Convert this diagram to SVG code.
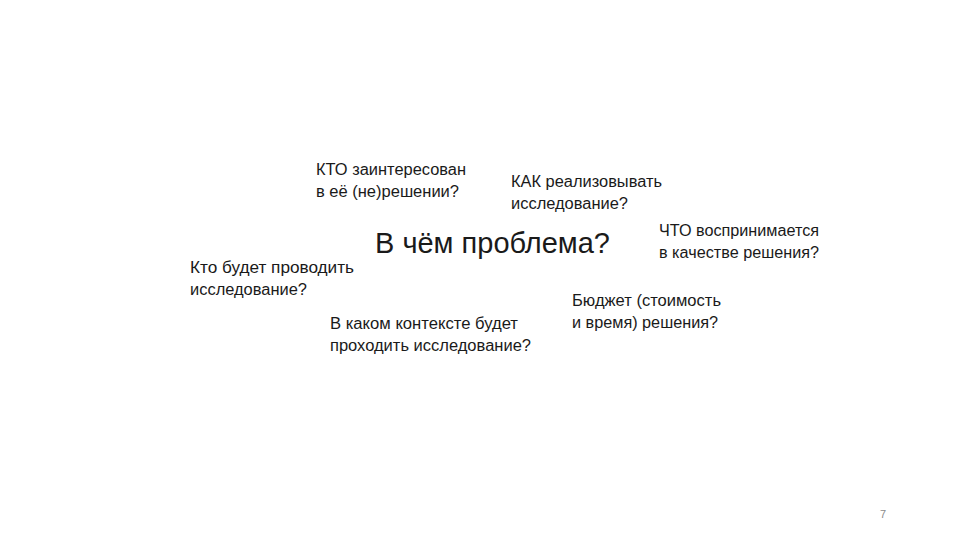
<svg xmlns="http://www.w3.org/2000/svg" width="960" height="540" viewBox="0 0 960 540">
<style>
.t{font-family:"Liberation Sans","DejaVu Sans",sans-serif;font-size:16px;fill:#1a1a1a}
.h{font-family:"Liberation Sans","DejaVu Sans",sans-serif;font-size:29px;fill:#1a1a1a}
.n{font-family:"Liberation Sans","DejaVu Sans",sans-serif;font-size:11px;fill:#8c8c8c}
</style>
<rect width="960" height="540" fill="#ffffff"/>
<text class="t" x="316" y="175" textLength="150" lengthAdjust="spacingAndGlyphs">КТО заинтересован</text>
<text class="t" x="316" y="197" textLength="143" lengthAdjust="spacingAndGlyphs">в её (не)решении?</text>
<text class="t" x="511" y="187" textLength="151" lengthAdjust="spacingAndGlyphs">КАК реализовывать</text>
<text class="t" x="511" y="209" textLength="117" lengthAdjust="spacingAndGlyphs">исследование?</text>
<text class="h" x="375" y="253" textLength="235" lengthAdjust="spacingAndGlyphs">В чём проблема?</text>
<text class="t" x="659" y="236" textLength="160" lengthAdjust="spacingAndGlyphs">ЧТО воспринимается</text>
<text class="t" x="659" y="258" textLength="160" lengthAdjust="spacingAndGlyphs">в качестве решения?</text>
<text class="t" x="190" y="273" textLength="164" lengthAdjust="spacingAndGlyphs">Кто будет проводить</text>
<text class="t" x="190" y="295" textLength="117" lengthAdjust="spacingAndGlyphs">исследование?</text>
<text class="t" x="572" y="306" textLength="149" lengthAdjust="spacingAndGlyphs">Бюджет (стоимость</text>
<text class="t" x="572" y="328" textLength="146" lengthAdjust="spacingAndGlyphs">и время) решения?</text>
<text class="t" x="330" y="329" textLength="188" lengthAdjust="spacingAndGlyphs">В каком контексте будет</text>
<text class="t" x="330" y="351" textLength="201" lengthAdjust="spacingAndGlyphs">проходить исследование?</text>
<text class="n" x="880" y="518">7</text>
</svg>
